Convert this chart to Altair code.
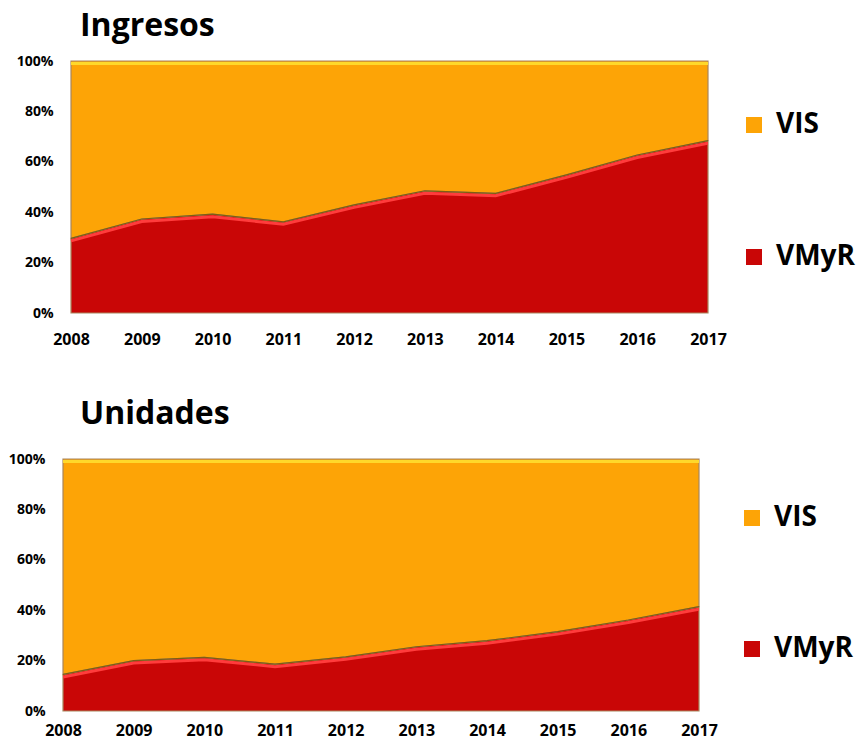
import altair as alt
import pandas as pd

years = [2008, 2009, 2010, 2011, 2012, 2013, 2014, 2015, 2016, 2017]
series = ["VIS", "VMyR"]
colors = ["#FDA406", "#C90606"]

ingresos_vmyr = [29.6, 37.3, 39.2, 36.2, 42.9, 48.5, 47.5, 54.8, 62.7, 68.4]
ingresos_vis = [70.4, 62.7, 60.8, 63.8, 57.1, 51.5, 52.5, 45.2, 37.3, 31.6]
unidades_vmyr = [14.5, 20.0, 21.3, 18.6, 21.5, 25.5, 27.9, 31.5, 36.1, 41.4]
unidades_vis = [85.5, 80.0, 78.7, 81.4, 78.5, 74.5, 72.1, 68.5, 63.9, 58.6]

y_ticks = [0, 0.2, 0.4, 0.6, 0.8, 1.0]
FONT = "Open Sans"


def make_df(vmyr, vis):
    rows = []
    for yr, a, b in zip(years, vmyr, vis):
        rows.append({"year": yr, "serie": "VMyR", "value": a, "ord": 0, "frac": a / (a + b)})
        rows.append({"year": yr, "serie": "VIS", "value": b, "ord": 1, "frac": a / (a + b)})
    return pd.DataFrame(rows)


def panel(df, title, leg_x, leg_y, row_pad, w, shift, title_offset, xpad):
    xscale = alt.Scale(padding=0, range=[shift, w]) if shift else alt.Scale(padding=0)
    x = alt.X("year:O", scale=xscale,
              axis=alt.Axis(title=None, labelAngle=0, labelFontSize=16, labelPadding=xpad))
    yaxis = alt.Axis(values=y_ticks, format=".0%", labelFontSize=14, labelPadding=18,
                     title=None, offset=-shift)
    base = alt.Chart(df)
    area = base.mark_area(opacity=1, stroke="#A8865E", strokeWidth=1.2).encode(
        x=x,
        y=alt.Y("sum(value):Q", stack="normalize", axis=yaxis,
                scale=alt.Scale(domain=[0, 1], nice=False)),
        color=alt.Color("serie:N",
                        scale=alt.Scale(domain=series, range=colors),
                        legend=alt.Legend(orient="none", legendX=leg_x, legendY=leg_y,
                                          title=None, rowPadding=row_pad,
                                          labelFontSize=28, labelFont=FONT,
                                          labelFontWeight="bold", labelColor="black",
                                          symbolType="square", symbolSize=256,
                                          symbolStrokeWidth=0, symbolOpacity=1,
                                          labelOffset=8)),
        order=alt.Order("ord:Q"),
    )
    bnd = base.transform_filter(alt.datum.serie == "VMyR")
    hl = bnd.mark_line(color="#FF3C3C", strokeWidth=3, yOffset=2.5, clip=True).encode(
        x=x, y=alt.Y("frac:Q", title=None))
    edge = bnd.mark_line(color="#7E5E14", strokeWidth=1.2, clip=True).encode(
        x=x, y=alt.Y("frac:Q", title=None))
    top = bnd.mark_line(color="#FFD82A", strokeWidth=3, yOffset=2.5, clip=True).encode(
        x=x, y=alt.datum(1.0))
    return alt.layer(area, hl, edge, top).properties(
        width=w, height=252,
        title=alt.TitleParams(title, anchor="start", frame="group", dx=17,
                              fontSize=32, font=FONT, fontWeight="bold",
                              baseline="alphabetic", offset=title_offset, color="black"),
    )


top = panel(make_df(ingresos_vmyr, ingresos_vis), "Ingresos", 677, 50, 104, 645, 8, -14, 18)
bottom = panel(make_df(unidades_vmyr, unidades_vis), "Unidades", 675, 45, 103, 636, 0, -4, 11)

chart = alt.concat(top, bottom, columns=1, spacing=51).resolve_legend(
    color="independent"
).resolve_scale(color="independent").properties(
    padding={"left": 0, "top": 2, "right": 0, "bottom": 4}
).configure_axis(
    labelFont=FONT, labelFontWeight="bold", labelColor="black",
    domain=False, ticks=False, grid=False,
).configure_view(stroke=None)

chart.save("out.html", embed_options={"renderer": "svg", "actions": False})
